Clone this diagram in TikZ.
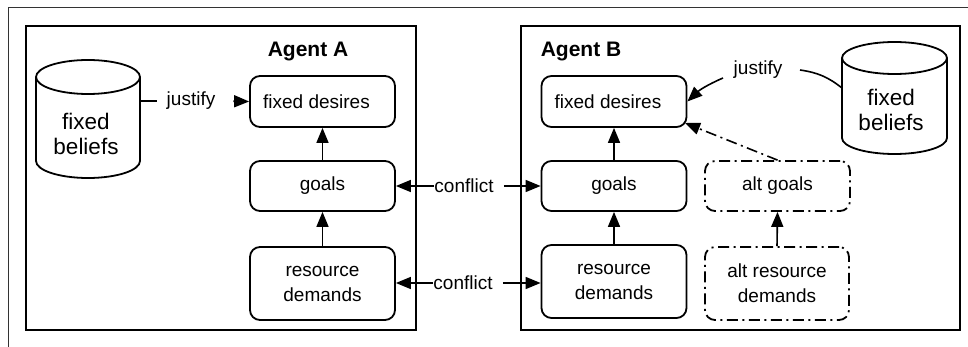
\documentclass[tikz,border=0pt]{standalone}
\usepackage{fontspec}
\setmainfont{Liberation Sans}
\usetikzlibrary{arrows.meta}
\begin{document}
\begin{tikzpicture}[x=1pt,y=-1pt,
  every node/.style={font=\fontsize{19}{25}\selectfont},
  box/.style={draw, line width=1.8pt, rounded corners=10pt, minimum width=145pt, align=center, inner sep=0pt},
  altbox/.style={box, dash pattern=on 11pt off 4.5pt on 2pt off 4.5pt},
  agent/.style={draw, line width=2pt, inner sep=0pt},
  lbl/.style={inner sep=0pt, align=center},
  cyltext/.style={lbl, font=\fontsize{22.5}{25}\selectfont},
  cyl/.style={line width=1.8pt},
  ln/.style={line width=1.6pt},
  arr/.style={line width=1.6pt, -{Triangle[length=15pt,width=12pt]}},
  altarr/.style={arr, dash pattern=on 11pt off 4.5pt on 2pt off 4.5pt},
  frame/.style={draw=black!80, line width=1pt}
]
\useasboundingbox (0,0) rectangle (968,347);
% outer frame
\coordinate (fTR) at (968,8);
\coordinate (fTL) at (8,8);
\coordinate (fBL) at (8,347);
\draw[frame] (fTR) -- (fTL) -- (fBL);

% agent boxes
\node[agent, minimum width=390pt, minimum height=304pt] (agA) at (221,178) {};
\node[agent, minimum width=439pt, minimum height=304pt] (agB) at (740.5,178) {};
\node[lbl, font=\fontsize{21}{24}\selectfont\bfseries] (tA) at (308,52) {Agent A};
\node[lbl, font=\fontsize{21}{24}\selectfont\bfseries] (tB) at (581,52) {Agent B};

% Agent A nodes
\node[box, minimum height=51pt] (fdA) at (322.5,101.5) {fixed desires\hspace*{12pt}};
\node[box, minimum height=50pt] (gA) at (322.5,186) {goals};
\node[box, minimum height=73pt] (rdA) at (322.5,283.5) {resource\\demands};

% Agent B nodes
\node[box, minimum height=51pt] (fdB) at (614,101.5) {fixed desires\hspace*{12pt}};
\node[box, minimum height=50pt] (gB) at (614,186) {goals};
\node[box, minimum height=73pt] (rdB) at (614,281.5) {resource\\demands};
\node[altbox, minimum height=50pt] (altG) at (777.5,186) {alt goals};
\node[altbox, minimum height=73pt, minimum width=144pt] (altR) at (777,283.5) {alt resource\\demands};

% cylinder A
\draw[cyl] (36,77) -- (36,161) arc[start angle=180,end angle=360,x radius=52pt,y radius=17pt] -- (140,77);
\draw[cyl] (88,77) ellipse[x radius=52pt, y radius=17pt];
\node[cyltext] (cylA) at (86,134) {fixed\\beliefs};
\coordinate (cylAe) at (140,101);

% cylinder B
\draw[cyl] (842,58) -- (842,138) arc[start angle=180,end angle=360,x radius=52.5pt,y radius=16pt] -- (947,58);
\draw[cyl] (894.5,58) ellipse[x radius=52.5pt, y radius=16pt];
\node[cyltext] (cylB) at (891,110) {fixed\\beliefs};
\coordinate (cylBw) at (842,88);

% justify A
\node[lbl] (jA) at (191,101) {justify};
\draw[ln, shorten >=10pt] (cylAe) -- (jA.west);
\draw[arr, shorten <=18pt] (jA.east) -- (fdA.west);

% justify B
\node[lbl] (jB) at (758,70) {justify};
\coordinate (jBr) at (800,70);
\coordinate (jBl) at (723,78);
\draw[ln] (jBr) to[bend left=15] (cylBw);
\draw[arr] (jBl) to[bend right=10] (fdB.east);

% vertical arrows
\draw[arr] (gA.north) -- (fdA.south);
\draw[arr] (rdA.north) -- (gA.south);
\draw[arr] (gB.north) -- (fdB.south);
\draw[arr] (rdB.north) -- (gB.south);
\draw[arr] (altR.north) -- (altG.south);
\coordinate (fdBc) at (685,123);
\draw[altarr] (altG.north) -- (fdBc);

% conflicts
\node[lbl] (cf1) at (464,186) {conflict};
\draw[arr] (cf1.west) -- (gA.east);
\draw[arr, shorten <=10pt] (cf1.east) -- (gB.west);
\node[lbl] (cf2) at (463,283) {conflict};
\draw[arr] (cf2.west) -- (rdA.east |- cf2.west);
\draw[arr, shorten <=10pt] (cf2.east) -- (rdB.west |- cf2.east);
\end{tikzpicture}
\end{document}
